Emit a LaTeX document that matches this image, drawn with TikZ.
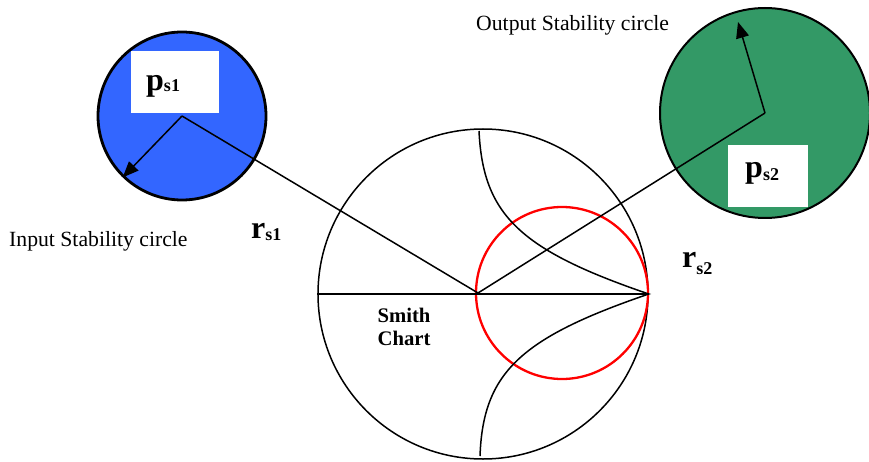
\documentclass[tikz,border=0pt]{standalone}
\usepackage{fontspec}
\setmainfont{Liberation Serif}
\usetikzlibrary{arrows.meta}
\definecolor{stabblue}{RGB}{51,102,255}
\definecolor{stabgreen}{RGB}{51,153,102}
\newcommand{\subsym}[3]{#1\raisebox{-#3pt}{\fontsize{18}{18}\selectfont #2}}

\begin{document}
\begin{tikzpicture}[x=1pt,y=-1pt]
        \tikzset{circle node/.style={circle, draw=black, inner sep=0pt},
          label box/.style={fill=white, inner sep=0pt},
          caption/.style={anchor=base west, inner sep=0pt, font=\fontsize{21.7}{24}\selectfont},
          big sym/.style={anchor=base west, inner sep=0pt, font=\fontsize{32}{34}\selectfont\bfseries},
          radius arrow/.style={-{Triangle[length=16pt,width=13pt]}, line width=1.5pt}}
        \useasboundingbox (0,0) rectangle (869,462);
        \node[circle node, fill=stabblue, line width=2.8pt, minimum size=168pt] (input) at (182,116) {};
        \node[circle node, fill=stabgreen, line width=2pt, minimum size=210pt] (output) at (765,113) {};
        \node[circle node, line width=1.5pt, minimum size=330pt] (chart) at (483,294) {};
        \node[circle node, draw=red, line width=2.3pt, minimum size=172pt] (load) at (562,293) {};
        \coordinate (hub) at (478,293);
        \coordinate (outtip) at (738,22);
        % chart lines
        \draw[line width=1.5pt] (chart.west) -- (chart.east);
        \draw[line width=1.5pt] (479,131) .. controls (483,215) and (520,250) .. (chart.east)
          .. controls (520,338) and (483,373) .. (480,456);
        \draw[line width=1.5pt] (input.center) -- (hub) -- (output.center);
        \draw[radius arrow] (input.center) -- (input.226);
        \draw[radius arrow] (output.center) -- (outtip);
        \node[label box, minimum width=88pt, minimum height=62pt] (box1) at (175,82) {};
        \node[label box, minimum width=80pt, minimum height=62pt] (box2) at (768,176) {};
        % labels
        \node[big sym] (ps1) at (146,91) {\subsym{p}{s1}{1}};
        \node[big sym] (ps2) at (745,178) {\subsym{p}{s2}{3}};
        \node[big sym] (rs1) at (251,238) {\subsym{r}{s1}{2}};
        \node[big sym] (rs2) at (682,267) {\subsym{r}{s2}{7}};
        \node[caption] (outcap) at (476,31) {Output Stability circle};
        \node[caption] (incap) at (9,247) {Input Stability circle};
        \node[align=center, font=\fontsize{20.7}{23.4}\selectfont\bfseries] (smithtxt) at (404,327) {Smith\\Chart};
\end{tikzpicture}
\end{document}
